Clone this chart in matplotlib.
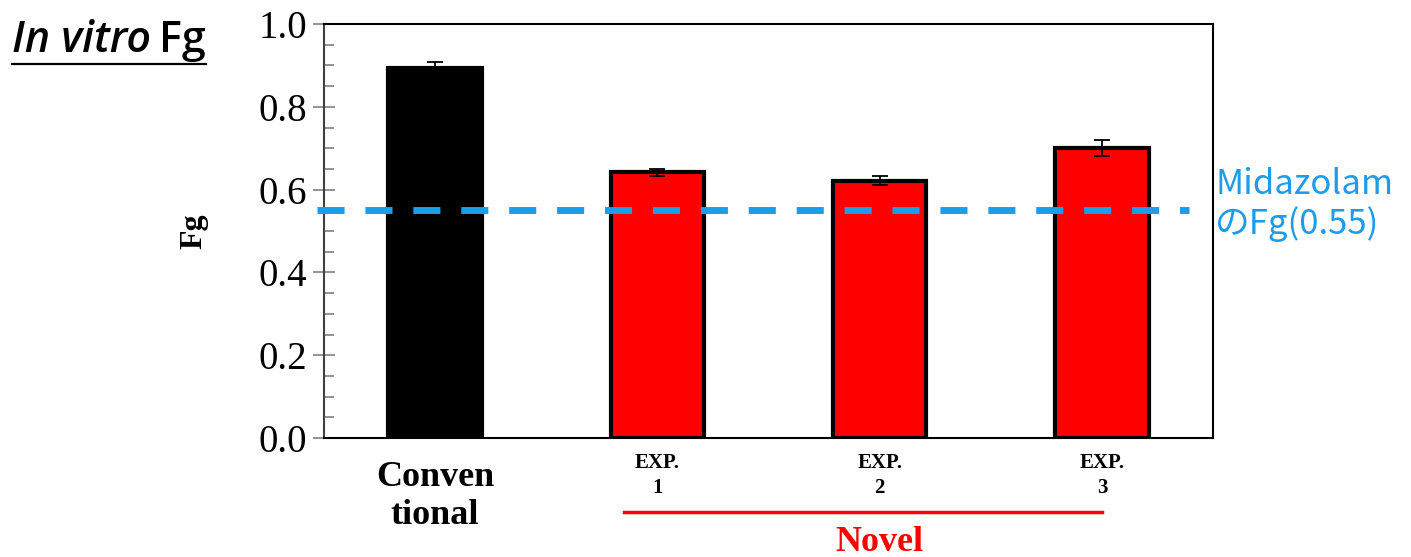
import matplotlib

matplotlib.use("Agg")
import matplotlib.pyplot as plt
from matplotlib.lines import Line2D
from matplotlib.ticker import MultipleLocator, FormatStrFormatter
import numpy as np

categories = ["Conven\ntional", "EXP.\n1", "EXP.\n2", "EXP.\n3"]
fg_values = [0.893, 0.642, 0.622, 0.701]
fg_errors = [0.016, 0.008, 0.011, 0.020]
bar_colors = ["black", "red", "red", "red"]
midazolam_fg = 0.55

BLUE = "#1C9CEB"
SERIF = "Liberation Serif"

fig = plt.figure(figsize=(14.11, 5.57), dpi=100)
ax = fig.add_axes([0.2296, 0.2136, 0.6301, 0.7433])

x = np.arange(len(categories))
ax.bar(x, fg_values, width=0.42, color=bar_colors, edgecolor="black",
       linewidth=3, zorder=2)
ax.errorbar(x, fg_values, yerr=fg_errors, fmt="none", ecolor="black",
            elinewidth=1.3, capsize=6, capthick=1.3, zorder=3)

# reference level for midazolam, slightly overhanging the left spine
ax.plot([-0.53, 3.39], [midazolam_fg, midazolam_fg], color=BLUE, lw=5,
        dashes=(3.9, 3.0), clip_on=False, zorder=4, solid_capstyle="butt")
ax.text(3.51, midazolam_fg + 0.013, "Midazolam\nのFg(0.55)", color=BLUE,
        fontsize=25, family=["Noto Sans CJK JP", "DejaVu Sans"],
        ha="left", va="center", linespacing=1.15)

ax.set_xlim(-0.5, 3.5)
ax.set_ylim(0, 1.0)
ax.yaxis.set_major_locator(MultipleLocator(0.2))
ax.yaxis.set_minor_locator(MultipleLocator(0.05))
ax.yaxis.set_major_formatter(FormatStrFormatter("%.1f"))
ax.tick_params(axis="y", which="major", direction="inout", length=16,
               width=1.2, color="#808080", labelsize=28, pad=4)
ax.tick_params(axis="y", which="minor", direction="in", length=7,
               width=1.2, color="#808080")
for lab in ax.get_yticklabels():
    lab.set_family(SERIF)

ax.set_xticks(x)
ax.set_xticklabels([])
ax.tick_params(axis="x", length=0)
for s in ax.spines.values():
    s.set_linewidth(1.5)
ax.spines["left"].set_color("#404040")

# category labels under the bars
tr = ax.get_xaxis_transform()
ax.text(x[0], -0.055, categories[0], transform=tr,
        ha="center", va="top", fontsize=26, fontweight="bold", family=SERIF,
        linespacing=1.22)
for xi, lab in zip(x[1:], categories[1:]):
    ax.text(xi, -0.035, lab, transform=tr,
            ha="center", va="top", fontsize=15, fontweight="bold",
            family=SERIF, linespacing=1.35)

# bracket marking the novel group
ax.add_line(Line2D([0.85, 3.0], [-0.178, -0.178], transform=tr, color="red",
                   lw=2.5, clip_on=False))
ax.text(2.0, -0.272, "Novel", transform=tr, color="red", ha="center",
        va="baseline", fontsize=26, fontweight="bold", family=SERIF)

ax.set_ylabel("Fg", fontsize=23, fontweight="bold", family=SERIF, labelpad=36)

# panel title, underlined
fig.canvas.draw()
renderer = fig.canvas.get_renderer()
base_y = 1 - 52 / 557
t1 = fig.text(12 / 1411, base_y, "In vitro", fontsize=31,
              fontstyle="italic", fontweight="semibold", family="Open Sans",
              ha="left", va="baseline")
fig.canvas.draw()
bb = t1.get_window_extent(renderer).transformed(fig.transFigure.inverted())
t2 = fig.text(bb.x1 + 8 / 1411, base_y, "Fg", fontsize=31,
              fontweight="semibold", family="Open Sans", ha="left",
              va="baseline")
fig.canvas.draw()
bb2 = t2.get_window_extent(renderer).transformed(fig.transFigure.inverted())
fig.add_artist(Line2D([12 / 1411, bb2.x1], [1 - 64 / 557, 1 - 64 / 557],
                      transform=fig.transFigure, color="black", lw=1.6))

fig.savefig("out.png", dpi=100)
